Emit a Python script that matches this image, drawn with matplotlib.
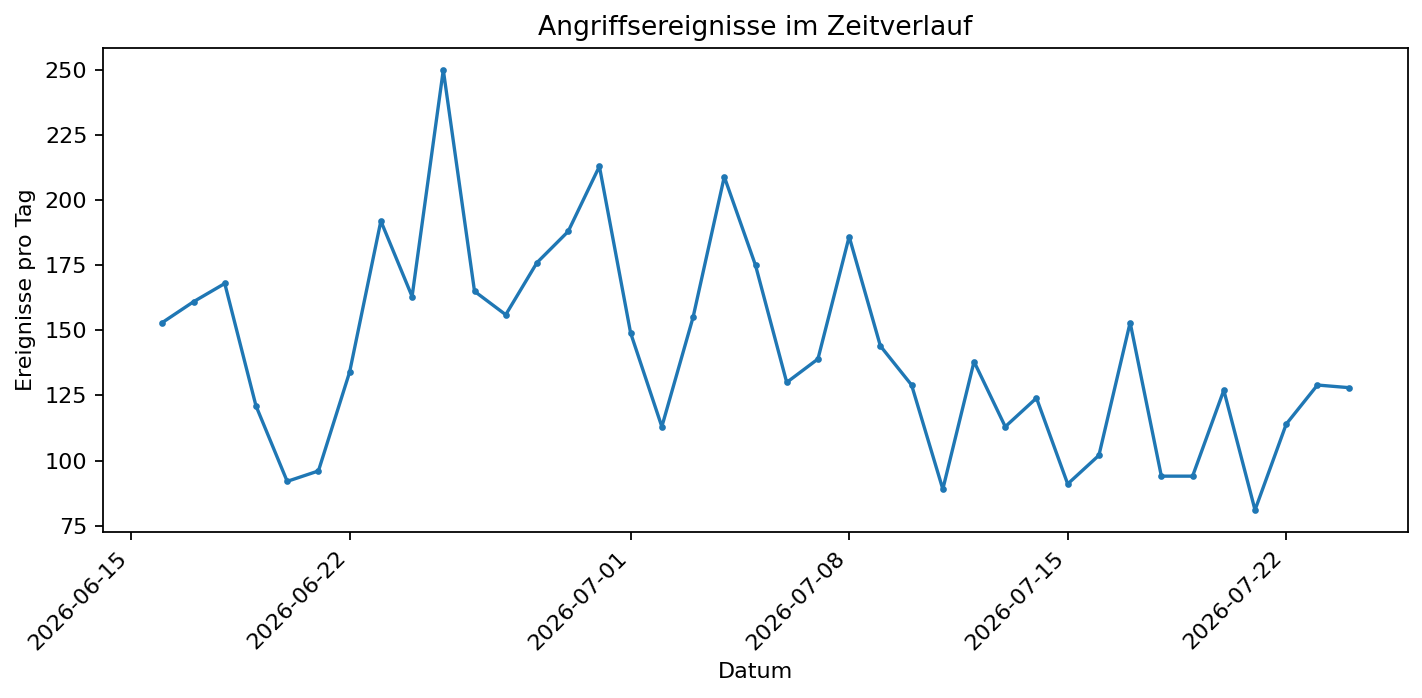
import matplotlib
matplotlib.use("Agg")
import matplotlib.pyplot as plt
import pandas as pd

# Daten
dates = pd.date_range("2026-06-16", "2026-07-24", freq="D")
events = [153, 161, 168, 121, 92, 96, 134, 192, 163, 250,
          165, 156, 176, 188, 213, 149, 113, 155, 209, 175,
          130, 139, 186, 144, 129, 89, 138, 113, 124, 91,
          102, 153, 94, 94, 127, 81, 114, 129, 128]

fig, ax = plt.subplots(figsize=(1422 / 160, 698 / 160), dpi=160)

ax.plot(dates, events, marker="o", markersize=2, linewidth=1.5, color="#1f77b4")

ax.set_title("Angriffsereignisse im Zeitverlauf")
ax.set_xlabel("Datum")
ax.set_ylabel("Ereignisse pro Tag")
plt.setp(ax.get_xticklabels(), rotation=45, ha="right")

fig.subplots_adjust(left=103 / 1422, right=1408 / 1422, top=1 - 48 / 698, bottom=1 - 532 / 698)
fig.savefig("out.png", dpi=160)
